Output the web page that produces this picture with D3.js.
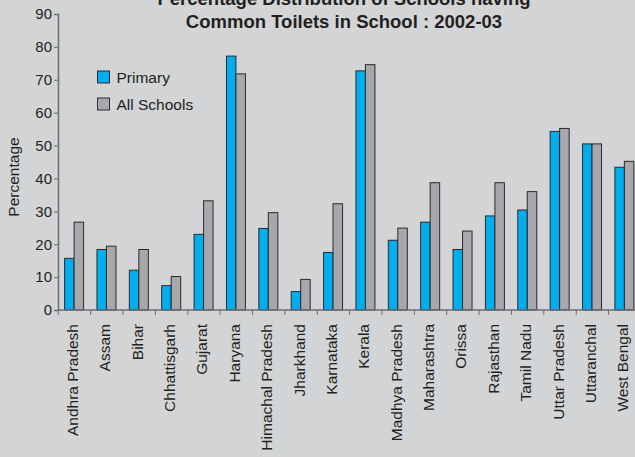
<!DOCTYPE html>
<html><head><meta charset="utf-8">
<script src="https://cdn.jsdelivr.net/npm/d3@7"></script>
<style>
html,body{margin:0;padding:0;background:#d3d4d6;}
svg{display:block;font-family:Arial,"Liberation Sans",sans-serif;}
</style></head>
<body><svg id="c" width="635" height="457"></svg>
<script>
const categories = ["Andhra Pradesh","Assam","Bihar","Chhattisgarh","Gujarat","Haryana","Himachal Pradesh","Jharkhand","Karnataka","Kerala","Madhya Pradesh","Maharashtra","Orissa","Rajasthan","Tamil Nadu","Uttar Pradesh","Uttaranchal","West Bengal"];
const primary    = [15.7,18.4,12.1,7.4,23.0,77.2,24.8,5.6,17.5,72.7,21.2,26.7,18.4,28.6,30.4,54.3,50.5,43.4];
const allSchools = [26.7,19.4,18.4,10.2,33.2,71.8,29.6,9.3,32.3,74.6,24.9,38.7,24.0,38.7,36.0,55.2,50.5,45.2];
const seriesNames = ["Primary","All Schools"];
const seriesColors = ["#00adef","#a7a8ab"];
const yTicks = [0,10,20,30,40,50,60,70,80,90];
const titleLines = ["Percentage Distribution of Schools having","Common Toilets in School : 2002-03"];
const yTitle = "Percentage";

const svg = d3.select("#c");
const x = d3.scaleBand().domain(categories).range([58.3, 58.3 + 18*32.37]).padding(0);
const xs = d3.scaleBand().domain(seriesNames).range([6.3, 25.3]).padding(0);
const y = d3.scaleLinear().domain([0,90]).range([310, 14]);
const series = [primary, allSchools];

// title
svg.append("g").selectAll("text").data(titleLines).join("text")
  .attr("x", 344).attr("y", (d,i)=> 4.5 + i*23)
  .attr("text-anchor","middle").attr("font-size","18.5px").attr("font-weight","bold")
  .attr("fill","#231f20").text(d=>d);

// bars
const g = svg.append("g");
categories.forEach((c, ci) => {
  series.forEach((s, si) => {
    g.append("rect")
      .attr("x", x(c) + xs(seriesNames[si]))
      .attr("y", y(s[ci]))
      .attr("width", xs.bandwidth())
      .attr("height", y(0) - y(s[ci]))
      .attr("fill", seriesColors[si])
      .attr("stroke", "#2a2a2a").attr("stroke-width", 1);
  });
});

// y axis
const yAxis = svg.append("g").attr("transform","translate(58,0)")
  .call(d3.axisLeft(y).tickValues(yTicks).tickSize(4).tickPadding(2).tickFormat(d3.format("d")));
yAxis.select(".domain").attr("stroke","#6d6e70").attr("stroke-width",1.5);
yAxis.selectAll(".tick line").attr("stroke","#6d6e70");
yAxis.selectAll("text").attr("font-size","15px").attr("fill","#231f20").attr("font-family","Arial, 'Liberation Sans', sans-serif");

// x axis
const xAxisG = svg.append("g").attr("transform","translate(0,310)");
xAxisG.append("line").attr("x1",58).attr("x2",635).attr("y1",0).attr("y2",0)
  .attr("stroke","#6d6e70").attr("stroke-width",1.5);
xAxisG.selectAll("line.tk").data(categories).join("line").attr("class","tk")
  .attr("x1", d=>x(d)).attr("x2", d=>x(d)).attr("y1",0).attr("y2",5)
  .attr("stroke","#6d6e70");
xAxisG.selectAll("text").data(categories).join("text")
  .attr("transform", d => `translate(${x(d) + x.bandwidth()/2 + 3.5},14) rotate(-90)`)
  .attr("text-anchor","end").attr("font-size","15.5px").attr("fill","#231f20")
  .text(d=>d);

// y title
svg.append("text").attr("transform","translate(19,177) rotate(-90)")
  .attr("text-anchor","middle").attr("font-size","15.5px").attr("fill","#231f20").text(yTitle);

// legend
const lg = svg.append("g");
seriesNames.forEach((n,i)=>{
  lg.append("rect").attr("x",97.5).attr("y",71 + i*27).attr("width",12).attr("height",12)
    .attr("fill",seriesColors[i]).attr("stroke","#2a2a2a").attr("stroke-width",1);
  lg.append("text").attr("x",116.5).attr("y",83.3 + i*26.7).attr("font-size","15.5px")
    .attr("fill","#231f20").text(n);
});
</script></body></html>
